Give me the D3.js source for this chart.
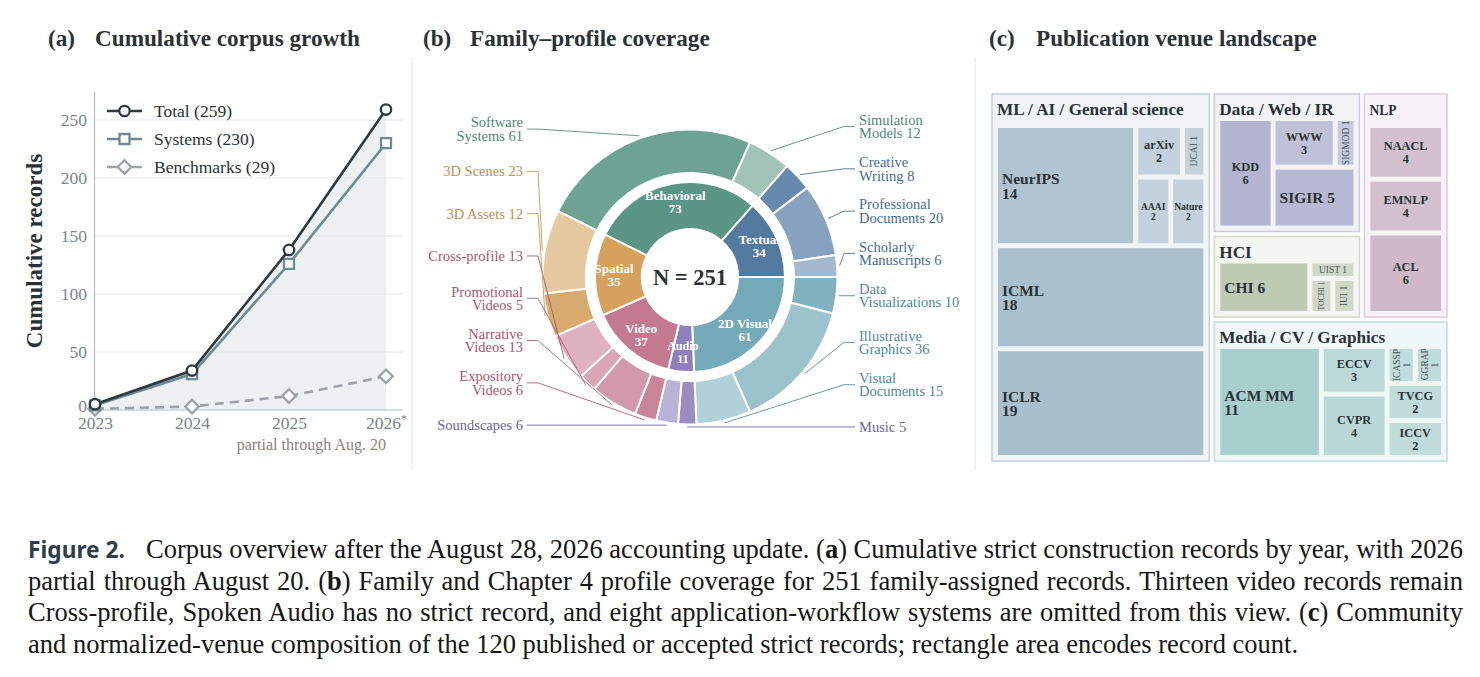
<!DOCTYPE html>
<html lang="en">
<head>
<meta charset="utf-8">
<title>Corpus overview</title>
<script src="https://d3js.org/d3.v7.min.js"></script>
<style>
  body { margin: 0; background: #fff; }
  svg { display: block; }
</style>
</head>
<body>
<script>
// ---------- data ----------
// (a) cumulative records
const years = ["2023", "2024", "2025", "2026"];
const totalRecords = [5, 34, 138, 259];
const systemRecords = [4, 31, 126, 230];
const benchmarkRecords = [1, 3, 12, 29];
const yTicks = [0, 50, 100, 150, 200, 250];
const legendLabels = ["Total (259)", "Systems (230)", "Benchmarks (29)"];

// (b) families (inner ring) and profiles (outer ring)
const families = ["Behavioral", "Textual", "2D Visual", "Audio", "Video", "Spatial"];
const familyCounts = [73, 34, 61, 11, 37, 35];
const profileNames = ["Software Systems", "Simulation Models", "Creative Writing", "Professional Documents",
  "Scholarly Manuscripts", "Data Visualizations", "Illustrative Graphics", "Visual Documents", "Music",
  "Soundscapes", "Expository Videos", "Narrative Videos", "Promotional Videos", "Cross-profile",
  "3D Assets", "3D Scenes"];
const profileFamily = ["Behavioral", "Behavioral", "Textual", "Textual", "Textual", "2D Visual", "2D Visual",
  "2D Visual", "Audio", "Audio", "Video", "Video", "Video", "Video", "Spatial", "Spatial"];
const profileCounts = [61, 12, 8, 20, 6, 10, 36, 15, 5, 6, 6, 13, 5, 13, 12, 23];

// (c) venues
const communities = ["ML / AI / General science", "Media / CV / Graphics", "HCI", "Data / Web / IR", "NLP"];
const venueNames = ["ICLR", "ICML", "NeurIPS", "AAAI", "Nature", "arXiv", "IJCAI",
  "ACM MM", "CVPR", "ECCV", "ICCV", "TVCG", "ICASSP", "SIGGRAPH",
  "CHI", "TOCHI", "IUI", "UIST",
  "KDD", "SIGIR", "WWW", "SIGMOD",
  "ACL", "EMNLP", "NAACL"];
const venueCommunity = ["ML / AI / General science", "ML / AI / General science", "ML / AI / General science",
  "ML / AI / General science", "ML / AI / General science", "ML / AI / General science", "ML / AI / General science",
  "Media / CV / Graphics", "Media / CV / Graphics", "Media / CV / Graphics", "Media / CV / Graphics",
  "Media / CV / Graphics", "Media / CV / Graphics", "Media / CV / Graphics",
  "HCI", "HCI", "HCI", "HCI",
  "Data / Web / IR", "Data / Web / IR", "Data / Web / IR", "Data / Web / IR",
  "NLP", "NLP", "NLP"];
const venueCounts = [19, 18, 14, 2, 2, 2, 1, 11, 4, 3, 2, 2, 1, 1, 6, 1, 1, 1, 6, 5, 3, 1, 6, 4, 4];

// caption
const captionLines = [
  "Corpus overview after the August 28, 2026 accounting update. (a) Cumulative strict construction records by year, with 2026",
  "partial through August 20. (b) Family and Chapter 4 profile coverage for 251 family-assigned records. Thirteen video records remain",
  "Cross-profile, Spoken Audio has no strict record, and eight application-workflow systems are omitted from this view. (c) Community",
  "and normalized-venue composition of the 120 published or accepted strict records; rectangle area encodes record count."
];

// ---------- setup ----------
const W = 1480, H = 677;
const serif = "'Liberation Serif', 'Times New Roman', serif";
const ink = "#2b3236";

const svg = d3.select("body").append("svg")
  .attr("width", W).attr("height", H)
  .attr("font-family", serif);
svg.append("rect").attr("width", W).attr("height", H).attr("fill", "#fff");

// panel separators
svg.selectAll(".sep").data([412, 975]).join("line")
  .attr("x1", d => d).attr("x2", d => d).attr("y1", 57).attr("y2", 470)
  .attr("stroke", "#e5e5e5").attr("stroke-width", 1);

// panel titles
function title(x, letter, text) {
  const t = svg.append("g").attr("font-weight", "bold").attr("font-size", 23.2).attr("fill", ink);
  t.append("text").attr("x", x).attr("y", 46).text(letter);
  t.append("text").attr("x", x + 47).attr("y", 46).text(text);
}
title(48, "(a)", "Cumulative corpus growth");
title(423, "(b)", "Family\u2013profile coverage");
title(989, "(c)", "Publication venue landscape");

// ---------- (a) line chart ----------
const ga = svg.append("g");
const x = d3.scalePoint().domain(years).range([95, 386]);
const y = d3.scaleLinear().domain([0, 275]).range([410, 91]);

ga.append("path").datum(totalRecords)
  .attr("d", d3.area().x((d, i) => x(years[i])).y0(y(0)).y1(d => y(d)))
  .attr("fill", "#edf1f2");

ga.append("g").selectAll("line").data(yTicks.filter(v => v > 0)).join("line")
  .attr("x1", 94).attr("x2", 403).attr("y1", d => y(d)).attr("y2", d => y(d))
  .attr("stroke", "#e2e7ea").attr("stroke-width", 1);

const yAxis = ga.append("g").attr("transform", "translate(94,0)")
  .call(d3.axisLeft(y).tickValues(yTicks).tickSize(0).tickSizeOuter(0).tickPadding(7));
yAxis.attr("font-family", serif).attr("font-size", 17.5);
yAxis.select(".domain").attr("stroke", "#b4bbc0").attr("stroke-width", 1.2);
yAxis.selectAll("text").attr("fill", "#7b848a");
yAxis.selectAll(".tick").filter(d => d === 0).select("text").attr("dy", "0.1em");

const xAxis = ga.append("g").attr("transform", "translate(0,410)")
  .call(d3.axisBottom(x).tickSize(0).tickSizeOuter(0).tickPadding(7));
xAxis.attr("font-family", serif).attr("font-size", 17.5);
xAxis.select(".domain").remove();
xAxis.selectAll("text").attr("fill", "#7b848a");
xAxis.selectAll(".tick").filter(d => d === "2026").select("text")
  .append("tspan").attr("dy", -6).attr("font-size", 12).text("*");
ga.append("line").attr("x1", 94).attr("x2", 403).attr("y1", 410).attr("y2", 410)
  .attr("stroke", "#b4bbc0").attr("stroke-width", 1.2);

ga.append("text").attr("transform", "translate(34,251) rotate(-90)")
  .attr("text-anchor", "middle").attr("dominant-baseline", "central")
  .attr("font-weight", "bold").attr("font-size", 23).attr("fill", ink)
  .text("Cumulative records");

ga.append("text").attr("x", 386).attr("y", 450).attr("text-anchor", "end")
  .attr("font-size", 16).attr("fill", "#8b827e").text("partial through Aug. 20");

const seriesDefs = [
  { values: totalRecords, color: "#2e393e", dash: null, marker: "circle" },
  { values: systemRecords, color: "#6e8a96", dash: null, marker: "square" },
  { values: benchmarkRecords, color: "#9ca2a7", dash: "9,6", marker: "diamond" }
];
const markerPath = {
  circle: d3.symbol(d3.symbolCircle, 85)(),
  square: "M-5,-5H5V5H-5Z",
  diamond: "M0,-6.8L6.8,0L0,6.8L-6.8,0Z"
};
const line = d3.line().x((d, i) => x(years[i])).y(d => y(d));

seriesDefs.slice().reverse().forEach(s => {
  ga.append("path").datum(s.values).attr("d", line)
    .attr("fill", "none").attr("stroke", s.color).attr("stroke-width", 2.6)
    .attr("stroke-dasharray", s.dash);
  ga.append("g").selectAll("path").data(s.values).join("path")
    .attr("transform", (d, i) => `translate(${x(years[i])},${y(d)})`)
    .attr("d", markerPath[s.marker])
    .attr("fill", "#fff").attr("stroke", s.color).attr("stroke-width", 2.3);
});

// legend
const lg = ga.append("g");
seriesDefs.forEach((s, i) => {
  const ly = 111 + i * 28;
  lg.append("line").attr("x1", 107).attr("x2", 142).attr("y1", ly).attr("y2", ly)
    .attr("stroke", s.color).attr("stroke-width", 2.6);
  lg.append("path").attr("transform", `translate(124.5,${ly})`).attr("d", markerPath[s.marker])
    .attr("fill", "#fff").attr("stroke", s.color).attr("stroke-width", 2.3);
  lg.append("text").attr("x", 154).attr("y", ly).attr("dominant-baseline", "central")
    .attr("font-size", 17.5).attr("fill", ink).text(legendLabels[i]);
});

// ---------- (b) sunburst ----------
const cx = 690, cy = 277;
const familyColor = d3.scaleOrdinal(families,
  ["#5b9584", "#547b9f", "#74a9b7", "#8f7fbb", "#c37a91", "#d5a15c"]);
const familyText = d3.scaleOrdinal(families,
  ["#4d8775", "#436b92", "#4f879c", "#6a63a2", "#a9566f", "#c38e4b"]);
const profileColor = d3.scaleOrdinal(profileNames,
  ["#6ea393", "#a1c3b8", "#6689ad", "#86a2be", "#a4b7cd", "#80b1bf", "#9cc2cc", "#b1d1d9",
   "#9a8dc1", "#bab3d8", "#c9849a", "#d298ab", "#d9a6b6", "#dfb2c1", "#d7ab6d", "#e7c9a1"]);

const nTotal = d3.sum(familyCounts);
// put the Textual / 2D Visual boundary at 3 o'clock
const start = Math.PI / 2 - 2 * Math.PI * d3.sum(familyCounts.slice(0, 2)) / nTotal;
const pie = d3.pie().sort(null).value(d => d).startAngle(start).endAngle(start + 2 * Math.PI);
const innerArcs = pie(familyCounts);
const outerArcs = pie(profileCounts);

const innerArc = d3.arc().innerRadius(48).outerRadius(95);
const outerArc = d3.arc().innerRadius(104).outerRadius(147.5);
const gb = svg.append("g").attr("transform", `translate(${cx},${cy})`);

gb.append("g").selectAll("path").data(outerArcs).join("path")
  .attr("d", outerArc).attr("fill", (d, i) => profileColor(profileNames[i]))
  .attr("stroke", "#fff").attr("stroke-width", 2);
gb.append("g").selectAll("path").data(innerArcs).join("path")
  .attr("d", innerArc).attr("fill", (d, i) => familyColor(families[i]))
  .attr("stroke", "#fff").attr("stroke-width", 2);

const labelArc = d3.arc().innerRadius(76).outerRadius(76);
const innerLabels = gb.append("g").selectAll("text").data(innerArcs).join("text")
  .attr("transform", d => `translate(${labelArc.centroid(d)})`)
  .attr("text-anchor", "middle").attr("font-weight", "bold").attr("fill", "#fff")
  .attr("font-size", (d, i) => familyCounts[i] < 20 ? 12 : 13);
innerLabels.append("tspan").attr("x", 0).attr("y", -6.5).attr("dominant-baseline", "central")
  .text((d, i) => families[i]);
innerLabels.append("tspan").attr("x", 0).attr("y", 6.5).attr("dominant-baseline", "central")
  .text((d, i) => familyCounts[i]);

gb.append("text").attr("text-anchor", "middle").attr("dominant-baseline", "central")
  .attr("font-weight", "bold").attr("font-size", 22.5).attr("fill", ink)
  .text("N = " + nTotal);

// outer labels with leader lines
const leaderR = 150;
const outerItems = outerArcs.map((a, i) => {
  const mid = (a.startAngle + a.endAngle) / 2;
  const px = cx + leaderR * Math.sin(mid), py = cy - leaderR * Math.cos(mid);
  return { i, px, py, iy: py, right: px > cx - 10 };
});
function spread(items, gap) {
  items.sort((a, b) => a.iy - b.iy);
  for (let k = items.length - 1; k >= 0; k--) {
    const lim = k === items.length - 1 ? Infinity : items[k + 1].ly - gap;
    items[k].ly = Math.min(items[k].iy, lim);
  }
}
const leftItems = outerItems.filter(d => !d.right), rightItems = outerItems.filter(d => d.right);
spread(leftItems, 42.3);
spread(rightItems, 42.3);

function labelLines(name, count) {
  const full = name + " " + count;
  const sp = name.indexOf(" ");
  return sp > 0 && full.length > 12 ? [name.slice(0, sp), name.slice(sp + 1) + " " + count] : [full];
}

const gl = svg.append("g");
outerItems.forEach(d => {
  const col = familyText(profileFamily[d.i]);
  const tx = d.right ? 859 : 523;
  const pts = d.right
    ? [[tx - 4, d.ly], [tx - 15, d.ly], [d.px, d.py]]
    : [[tx + 4, d.ly], [tx + 15, d.ly], [d.px, d.py]];
  gl.append("path").attr("d", d3.line()(pts)).attr("fill", "none")
    .attr("stroke", col).attr("stroke-width", 1).attr("stroke-opacity", 0.85);
  const lines = labelLines(profileNames[d.i], profileCounts[d.i]);
  const t = gl.append("text").attr("x", tx).attr("text-anchor", d.right ? "start" : "end")
    .attr("font-size", 14.5).attr("fill", col);
  lines.forEach((s, k) => {
    t.append("tspan").attr("x", tx)
      .attr("y", d.ly + (k - (lines.length - 1) / 2) * 13.5)
      .attr("dominant-baseline", "central").text(s);
  });
});

// ---------- (c) treemap ----------
// squarified rows laid out from the bottom-left corner
function squarifyUp(parent, x0, y0, x1, y1) {
  const nodes = parent.children;
  let i = 0;
  while (i < nodes.length) {
    const dx = x1 - x0, dy = y1 - y0;
    const k = dx * dy / d3.sum(nodes.slice(i), n => n.value);
    const worst = row => {
      const side = d3.sum(row, n => n.value) * k / (dx >= dy ? dy : dx);
      return d3.max(row, n => { const o = n.value * k / side; return Math.max(side / o, o / side); });
    };
    let j = i + 1;
    while (j < nodes.length && worst(nodes.slice(i, j + 1)) < 0.968 * worst(nodes.slice(i, j))) j++;
    const row = nodes.slice(i, j);
    const s = d3.sum(row, n => n.value) * k;
    if (dx >= dy) {
      const w = s / dy; let yy = y1;
      row.forEach(n => { const h = n.value * k / w; n.x0 = x0; n.x1 = x0 + w; n.y1 = yy; n.y0 = yy - h; yy -= h; });
      x0 += w;
    } else {
      const h = s / dx; let xx = x0;
      row.forEach(n => { const w = n.value * k / h; n.x0 = xx; n.x1 = xx + w; n.y0 = y1 - h; n.y1 = y1; xx += w; });
      y1 -= h;
    }
    i = j;
  }
}

const venues = venueNames.map((v, i) => ({ name: v, community: venueCommunity[i], value: venueCounts[i] }));
const root = d3.hierarchy({
  name: "all",
  children: communities.map(c => ({ name: c, children: venues.filter(v => v.community === c) }))
}).sum(d => d.children ? 0 : d.value);

d3.treemap().tile(squarifyUp).size([455, 367]).paddingInner(5)
  .paddingTop(d => d.depth === 1 ? (d.y1 - d.y0 > 200 ? 34 : 27) : 0)
  .paddingLeft(d => d.depth === 1 ? 6 : 0)
  .paddingRight(d => d.depth === 1 ? 6 : 0)
  .paddingBottom(d => d.depth === 1 ? 6 : 0)(root);

const communityBase = d3.scaleOrdinal(communities, ["#a9bfcc", "#a8cecd", "#bfcab5", "#b3b5d0", "#cdb9c8"]);
const gc = svg.append("g").attr("transform", "translate(992,94)");

const groups = gc.selectAll("g.grp").data(root.children).join("g").attr("class", "grp");
groups.append("rect")
  .attr("x", d => d.x0).attr("y", d => d.y0)
  .attr("width", d => d.x1 - d.x0).attr("height", d => d.y1 - d.y0)
  .attr("fill", d => d3.interpolateRgb(communityBase(d.data.name), "#fff")(0.83))
  .attr("stroke", d => d3.interpolateRgb(communityBase(d.data.name), "#fff")(0.3))
  .attr("stroke-width", 1.6);
groups.append("text")
  .attr("x", d => d.x0 + 5).attr("y", d => d.y0 + 21)
  .attr("font-weight", "bold").attr("fill", ink)
  .attr("font-size", d => Math.min(17.2, (d.x1 - d.x0) / 6.1))
  .text(d => d.data.name);

const leaves = gc.selectAll("g.leaf").data(root.leaves()).join("g").attr("class", "leaf");
leaves.append("clipPath").attr("id", (d, i) => "clip" + i)
  .append("rect").attr("x", d => d.x0).attr("y", d => d.y0)
  .attr("width", d => d.x1 - d.x0).attr("height", d => d.y1 - d.y0);
leaves.append("rect")
  .attr("x", d => d.x0).attr("y", d => d.y0)
  .attr("width", d => d.x1 - d.x0).attr("height", d => d.y1 - d.y0)
  .attr("fill", d => {
    const maxV = d3.max(d.parent.children, n => n.value);
    return d3.interpolateRgb(communityBase(d.parent.data.name), "#fff")(0.32 * (1 - d.value / maxV));
  });

leaves.each(function (d, i) {
  const g = d3.select(this).append("g").attr("clip-path", `url(#clip${i})`);
  const w = d.x1 - d.x0, h = d.y1 - d.y0;
  const mx = (d.x0 + d.x1) / 2, my = (d.y0 + d.y1) / 2;
  const name = d.data.name, val = d.data.value;
  const t = g.append("text").attr("fill", ink);
  if (w < 27) {
    t.attr("transform", `translate(${mx},${my}) rotate(-90)`).attr("text-anchor", "middle")
      .attr("fill", "#4a5357");
    if (w > 20) {
      t.attr("font-size", 9.5);
      t.append("tspan").attr("x", 0).attr("y", -4.5).attr("dominant-baseline", "central").text(name);
      t.append("tspan").attr("x", 0).attr("y", 5.5).attr("dominant-baseline", "central").text(val);
    } else {
      const s = name + " " + val;
      t.attr("font-size", Math.min(9.5, (h - 3) / (s.length * 0.5)))
        .attr("dominant-baseline", "central").text(s);
    }
  } else if (h < 17) {
    t.attr("x", mx).attr("y", my).attr("text-anchor", "middle").attr("dominant-baseline", "central")
      .attr("font-size", 9.5).attr("fill", "#4a5357").text(name + " " + val);
  } else if (val >= 5 && w >= 72) {
    t.attr("font-weight", "bold").attr("font-size", 15.5);
    if (h < 60) {
      t.attr("x", d.x0 + 4).attr("y", my).attr("dominant-baseline", "central").text(name + " " + val);
    } else {
      t.append("tspan").attr("x", d.x0 + 4).attr("y", my - 7).attr("dominant-baseline", "central").text(name);
      t.append("tspan").attr("x", d.x0 + 4).attr("y", my + 7.5).attr("dominant-baseline", "central").text(val);
    }
  } else if (h < 32) {
    t.attr("x", mx).attr("y", my).attr("text-anchor", "middle").attr("dominant-baseline", "central")
      .attr("font-weight", "bold").attr("font-size", 13).text(name + " " + val);
  } else {
    const fs = w < 35 ? 9.5 : 12.3;
    t.attr("text-anchor", "middle").attr("font-weight", "bold").attr("font-size", fs);
    t.append("tspan").attr("x", mx).attr("y", my - fs * 0.5).attr("dominant-baseline", "central").text(name);
    t.append("tspan").attr("x", mx).attr("y", my + fs * 0.55).attr("dominant-baseline", "central").text(val);
  }
});

// ---------- caption ----------
const cap = svg.append("g").attr("font-size", 26.5).attr("fill", "#161616");
cap.append("text").attr("x", 28).attr("y", 558)
  .attr("font-family", "'Noto Sans', 'DejaVu Sans', sans-serif").attr("font-weight", "bold")
  .attr("font-size", 23).attr("fill", "#2e3d4a")
  .attr("textLength", 97).attr("lengthAdjust", "spacingAndGlyphs").text("Figure 2.");

const capLeft = [146, 28, 28, 28];
captionLines.forEach((s, li) => {
  const t = cap.append("text").attr("x", capLeft[li]).attr("y", 558 + li * 31.5);
  s.split(/(\([abc]\))/).forEach(part => {
    const m = part.match(/^\(([abc])\)$/);
    if (m) {
      t.append("tspan").text("(");
      t.append("tspan").attr("font-weight", "bold").text(m[1]);
      t.append("tspan").text(")");
    } else if (part) {
      t.append("tspan").text(part);
    }
  });
  if (li < captionLines.length - 1) {
    const natural = t.node().getComputedTextLength();
    const spaces = (s.match(/ /g) || []).length;
    t.attr("word-spacing", (1463 - capLeft[li] - natural) / spaces);
  }
});
</script>
</body>
</html>
